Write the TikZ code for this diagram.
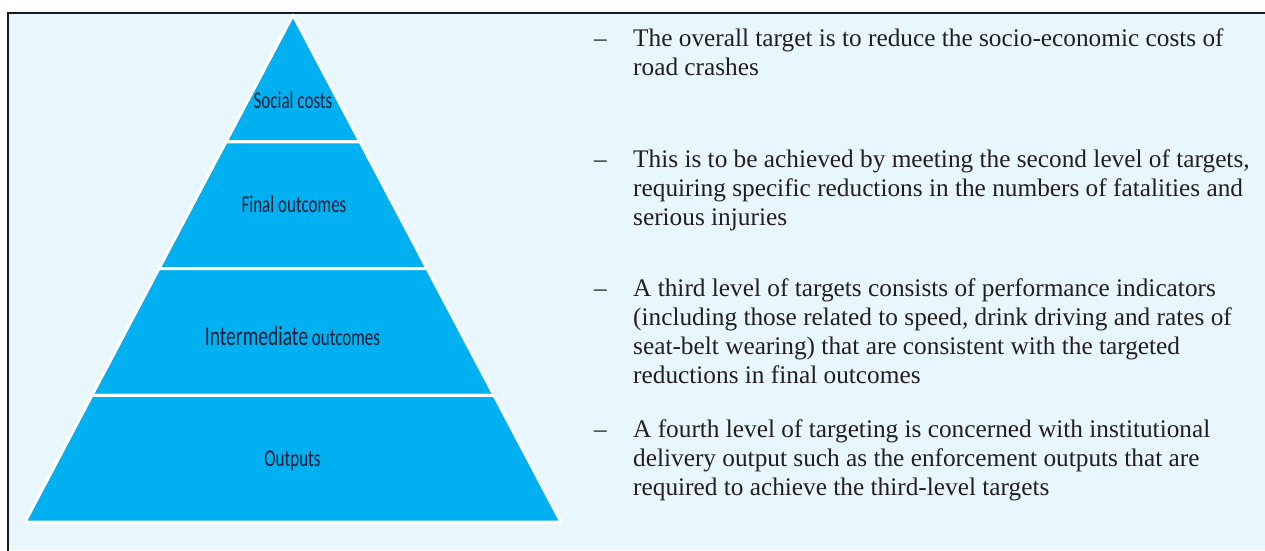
\documentclass[tikz,border=0pt]{standalone}
\usepackage{fontspec}
\setmainfont{Liberation Serif}
\newfontfamily\labfont{Carlito}
\usetikzlibrary{calc}
\definecolor{bgblue}{RGB}{232,246,253}
\definecolor{pyrblue}{RGB}{0,176,240}
\definecolor{labtext}{RGB}{10,28,55}
\definecolor{bodytext}{RGB}{35,31,32}
\definecolor{framecol}{RGB}{26,26,26}
\newcommand{\condensed}[1]{\scalebox{0.71}[1]{#1}}
\begin{document}
\begin{tikzpicture}[x=1pt,y=-1pt,
  band/.style={fill=pyrblue,draw=white,line width=3pt,line join=round},
  lab/.style={inner sep=0pt,anchor=base,text=labtext,font=\labfont\fontsize{24}{24}\selectfont},
  txt/.style={inner sep=0pt,anchor=base west,text=bodytext,font=\fontsize{25.3}{29}\selectfont},
  dashmark/.style={inner sep=0pt,anchor=base west,text=bodytext,font=\fontsize{25.3}{29}\selectfont}]
\useasboundingbox (0,0) rectangle (1265,550);
\fill[white] (0,0) rectangle (1265,550);
\fill[bgblue] (8,13) rectangle (1265,550);
\draw[framecol,line width=2.2pt] (8,560) -- (8,13) -- (1275,13);
% pyramid
\coordinate (apex) at (293,15);
\coordinate (bl) at (25,522);
\coordinate (br) at (561,522);
\coordinate (l1) at ($(apex)!0.25!(bl)$);
\coordinate (r1) at ($(apex)!0.25!(br)$);
\coordinate (l2) at ($(apex)!0.5!(bl)$);
\coordinate (r2) at ($(apex)!0.5!(br)$);
\coordinate (l3) at ($(apex)!0.75!(bl)$);
\coordinate (r3) at ($(apex)!0.75!(br)$);
\filldraw[band] (apex) -- (r1) -- (l1) -- cycle;
\filldraw[band] (l1) -- (r1) -- (r2) -- (l2) -- cycle;
\filldraw[band] (l2) -- (r2) -- (r3) -- (l3) -- cycle;
\filldraw[band] (l3) -- (r3) -- (br) -- (bl) -- cycle;
\node[lab] (social) at (293,108) {\condensed{Social costs}};
\node[lab] (final) at (294,212) {\condensed{Final outcomes}};
\node[lab] (inter) at (292.5,345) {\condensed{{\fontsize{27.5}{27.5}\selectfont Intermediate} outcomes}};
\node[lab] (outputs) at (292.5,466) {\condensed{Outputs}};
% text items
\node[dashmark] (d1) at (594,46) {–};
\node[txt] (a1) at (633,46) {The overall target is to reduce the socio-economic costs of};
\node[txt] (a2) at (633,75) {road crashes};
\node[dashmark] (d2) at (594,167) {–};
\node[txt] (b1) at (633,167) {This is to be achieved by meeting the second level of targets,};
\node[txt] (b2) at (633,196) {requiring specific reductions in the numbers of fatalities and};
\node[txt] (b3) at (633,225) {serious injuries};
\node[dashmark] (d3) at (594,296) {–};
\node[txt] (c1) at (633,296) {A third level of targets consists of performance indicators};
\node[txt] (c2) at (633,325) {(including those related to speed, drink driving and rates of};
\node[txt] (c3) at (633,354) {seat-belt wearing) that are consistent with the targeted};
\node[txt] (c4) at (633,383) {reductions in final outcomes};
\node[dashmark] (d4) at (594,437) {–};
\node[txt] (e1) at (633,437) {A fourth level of targeting is concerned with institutional};
\node[txt] (e2) at (633,466) {delivery output such as the enforcement outputs that are};
\node[txt] (e3) at (633,495) {required to achieve the third-level targets};
\end{tikzpicture}
\end{document}
